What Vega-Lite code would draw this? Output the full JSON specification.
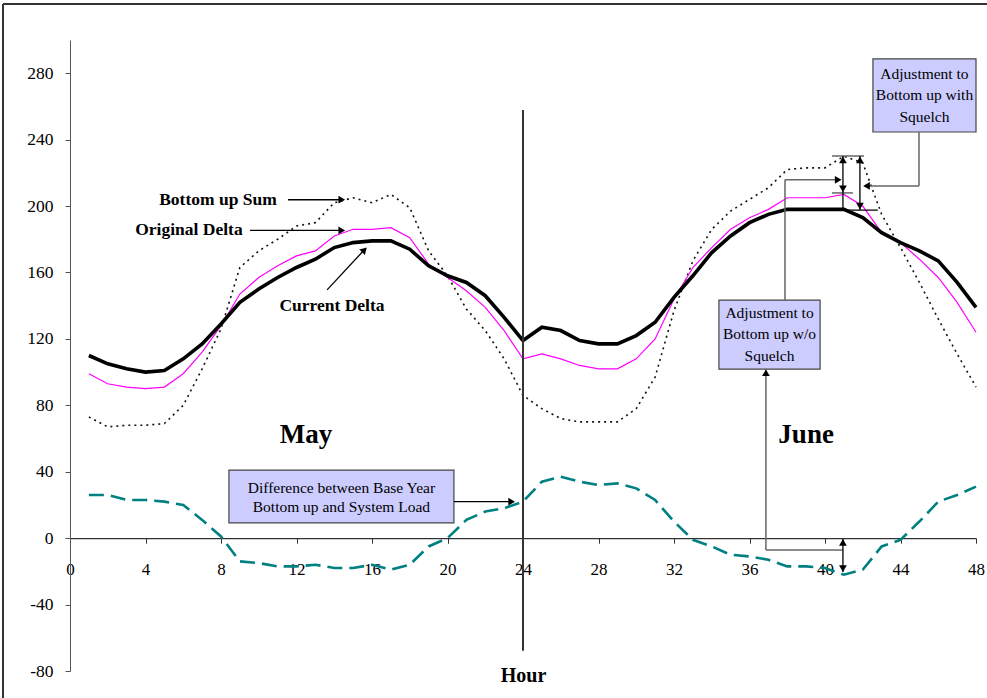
{
  "$schema": "https://vega.github.io/schema/vega-lite/v6.json",
  "width": 906,
  "height": 631,
  "autosize": {"type": "none"},
  "padding": {"left": 70, "top": 40, "right": 11, "bottom": 27},
  "background": "white",
  "config": {"view": {"stroke": null}, "font": "Liberation Serif"},
  "datasets": {
    "series": [
      {"hour": 1, "cd": 110, "od": 99, "bu": 73, "df": 26},
      {"hour": 2, "cd": 105, "od": 93, "bu": 67, "df": 26},
      {"hour": 3, "cd": 102, "od": 91, "bu": 68, "df": 23},
      {"hour": 4, "cd": 100, "od": 90, "bu": 68, "df": 23},
      {"hour": 5, "cd": 101, "od": 91, "bu": 69, "df": 22},
      {"hour": 6, "cd": 108, "od": 99, "bu": 80, "df": 20},
      {"hour": 7, "cd": 117, "od": 112, "bu": 102, "df": 11},
      {"hour": 8, "cd": 129, "od": 128, "bu": 126, "df": 1},
      {"hour": 9, "cd": 142, "od": 147, "bu": 163, "df": -14},
      {"hour": 10, "cd": 150, "od": 157, "bu": 173, "df": -15},
      {"hour": 11, "cd": 157, "od": 164, "bu": 180, "df": -17},
      {"hour": 12, "cd": 163, "od": 170, "bu": 188, "df": -17},
      {"hour": 13, "cd": 168, "od": 173, "bu": 190, "df": -16},
      {"hour": 14, "cd": 175, "od": 182, "bu": 202, "df": -18},
      {"hour": 15, "cd": 178, "od": 186, "bu": 205, "df": -18},
      {"hour": 16, "cd": 179, "od": 186, "bu": 202, "df": -16},
      {"hour": 17, "cd": 179, "od": 187, "bu": 207, "df": -19},
      {"hour": 18, "cd": 174, "od": 181, "bu": 199, "df": -16},
      {"hour": 19, "cd": 164, "od": 165, "bu": 173, "df": -5},
      {"hour": 20, "cd": 158, "od": 157, "bu": 158, "df": 0},
      {"hour": 21, "cd": 154, "od": 149, "bu": 138, "df": 11},
      {"hour": 22, "cd": 146, "od": 139, "bu": 125, "df": 16},
      {"hour": 23, "cd": 133, "od": 125, "bu": 108, "df": 18},
      {"hour": 24, "cd": 119, "od": 108, "bu": 86, "df": 22},
      {"hour": 25, "cd": 127, "od": 111, "bu": 78, "df": 34},
      {"hour": 26, "cd": 125, "od": 108, "bu": 72, "df": 37},
      {"hour": 27, "cd": 119, "od": 104, "bu": 70, "df": 34},
      {"hour": 28, "cd": 117, "od": 102, "bu": 70, "df": 32},
      {"hour": 29, "cd": 117, "od": 102, "bu": 70, "df": 33},
      {"hour": 30, "cd": 122, "od": 108, "bu": 78, "df": 30},
      {"hour": 31, "cd": 130, "od": 120, "bu": 97, "df": 23},
      {"hour": 32, "cd": 145, "od": 144, "bu": 137, "df": 10},
      {"hour": 33, "cd": 158, "od": 163, "bu": 167, "df": -1},
      {"hour": 34, "cd": 172, "od": 175, "bu": 186, "df": -5},
      {"hour": 35, "cd": 182, "od": 186, "bu": 197, "df": -10},
      {"hour": 36, "cd": 190, "od": 193, "bu": 204, "df": -11},
      {"hour": 37, "cd": 195, "od": 198, "bu": 211, "df": -13},
      {"hour": 38, "cd": 198, "od": 205, "bu": 222, "df": -17},
      {"hour": 39, "cd": 198, "od": 205, "bu": 223, "df": -17},
      {"hour": 40, "cd": 198, "od": 205, "bu": 223, "df": -18},
      {"hour": 41, "cd": 198, "od": 207, "bu": 230, "df": -22},
      {"hour": 42, "cd": 193, "od": 200, "bu": 226, "df": -19},
      {"hour": 43, "cd": 184, "od": 184, "bu": 195, "df": -5},
      {"hour": 44, "cd": 178, "od": 178, "bu": 175, "df": -1},
      {"hour": 45, "cd": 173, "od": 168, "bu": 154, "df": 10},
      {"hour": 46, "cd": 167, "od": 157, "bu": 132, "df": 22},
      {"hour": 47, "cd": 154, "od": 142, "bu": 111, "df": 26},
      {"hour": 48, "cd": 139, "od": 124, "bu": 91, "df": 31}
    ],
    "boxes": [
      {"x": 8.42, "x2": 20.34, "y": 41.0, "y2": 9.2},
      {"x": 34.38, "x2": 39.74, "y": 143.4, "y2": 101.8},
      {"x": 42.54, "x2": 48.0, "y": 288.6, "y2": 244.6}
    ],
    "boxtext": [
      {"x": 14.38, "y": 30.1, "label": "Difference between Base Year"},
      {"x": 14.38, "y": 18.8, "label": "Bottom up and System Load"},
      {"x": 37.06, "y": 135.6, "label": "Adjustment to"},
      {"x": 37.06, "y": 122.9, "label": "Bottom up w/o"},
      {"x": 37.06, "y": 109.7, "label": "Squelch"},
      {"x": 45.27, "y": 279.6, "label": "Adjustment to"},
      {"x": 45.27, "y": 267.0, "label": "Bottom up with"},
      {"x": 45.27, "y": 253.7, "label": "Squelch"}
    ],
    "greylines": [
      {"x": 40.37, "y": 230.2, "x2": 42.07, "y2": 230.2},
      {"x": 40.37, "y": 207.9, "x2": 41.48, "y2": 207.9},
      {"x": 37.88, "y": 143.4, "x2": 37.88, "y2": 215.8},
      {"x": 37.88, "y": 215.8, "x2": 40.6, "y2": 215.8},
      {"x": 36.87, "y": 101.8, "x2": 36.87, "y2": -7.1},
      {"x": 36.87, "y": -7.1, "x2": 40.95, "y2": -7.1},
      {"x": 44.98, "y": 244.6, "x2": 44.98, "y2": 212.1},
      {"x": 44.98, "y": 212.1, "x2": 42.3, "y2": 212.1}
    ],
    "blacklines": [
      {"x": 11.55, "y": 203.8, "x2": 14.3, "y2": 203.8},
      {"x": 9.54, "y": 185.3, "x2": 14.3, "y2": 185.3},
      {"x": 13.62, "y": 149.5, "x2": 15.5, "y2": 172.5},
      {"x": 20.34, "y": 22.0, "x2": 23.3, "y2": 22.0},
      {"x": 40.95, "y": -0.5, "x2": 40.95, "y2": -20.4},
      {"x": 40.95, "y": 230.2, "x2": 40.95, "y2": 207.9},
      {"x": 40.95, "y": 207.9, "x2": 40.95, "y2": 197.6},
      {"x": 40.95, "y": 197.6, "x2": 42.8, "y2": 197.6},
      {"x": 41.85, "y": 230.2, "x2": 41.85, "y2": 197.6}
    ],
    "heads": [
      {"x": 14.4, "y": 203.8, "dir": "right"},
      {"x": 14.4, "y": 185.3, "dir": "right"},
      {"x": 23.4, "y": 22.0, "dir": "right"},
      {"x": 40.7, "y": 215.8, "dir": "right"},
      {"x": 36.87, "y": 99.6, "dir": "up"},
      {"x": 40.95, "y": -2.6, "dir": "up"},
      {"x": 40.95, "y": -18.3, "dir": "down"},
      {"x": 40.95, "y": 227.8, "dir": "up"},
      {"x": 40.95, "y": 210.3, "dir": "down"},
      {"x": 41.85, "y": 227.8, "dir": "up"},
      {"x": 41.85, "y": 200.0, "dir": "down"},
      {"x": 42.2, "y": 212.1, "dir": "left"}
    ],
    "labels": [
      {"x": 7.84, "y": 203.8, "label": "Bottom up Sum"},
      {"x": 6.3, "y": 185.6, "label": "Original Delta"},
      {"x": 13.88, "y": 139.8, "label": "Current Delta"}
    ],
    "months": [
      {"x": 12.5, "y": 62.2, "label": "May"},
      {"x": 39.0, "y": 62.2, "label": "June"}
    ]
  },
  "layer": [
    {
      "data": {"name": "series"},
      "mark": {"type": "line", "color": "#008080", "strokeWidth": 2.6, "strokeDash": [15, 7]},
      "encoding": {
        "x": {
          "field": "hour", "type": "quantitative",
          "scale": {"domain": [0, 48], "nice": false, "zero": false},
          "axis": {
            "orient": "bottom", "offset": -132.8,
            "values": [0, 4, 8, 12, 16, 20, 24, 28, 32, 36, 40, 44, 48],
            "tickSize": 5, "labelPadding": 18, "labelFontSize": 17,
            "labelFont": "Liberation Serif", "labelColor": "black",
            "domainColor": "black", "tickColor": "#333", "grid": false,
            "labelFlush": false, "labelOverlap": false,
            "title": "Hour", "titleFont": "Liberation Serif", "titleFontSize": 20,
            "titleFontWeight": "bold", "titleColor": "black", "titleY": 137, "titleBaseline": "middle"
          }
        },
        "y": {
          "field": "df", "type": "quantitative",
          "scale": {"domain": [-80, 300], "nice": false, "zero": false},
          "axis": {
            "values": [-80, -40, 0, 40, 80, 120, 160, 200, 240, 280],
            "labelExpr": "toString(datum.value)",
            "tickSize": 5, "labelPadding": 12, "labelFontSize": 17.5,
            "labelFont": "Liberation Serif", "labelColor": "black",
            "domainColor": "#555", "tickColor": "#555", "grid": false, "title": null
          }
        }
      }
    },
    {
      "data": {"name": "series"},
      "mark": {"type": "line", "color": "#111", "strokeWidth": 1.6, "strokeDash": [2, 4]},
      "encoding": {
        "x": {"field": "hour", "type": "quantitative"},
        "y": {"field": "bu", "type": "quantitative"}
      }
    },
    {
      "data": {"name": "series"},
      "mark": {"type": "line", "color": "#ff00ff", "strokeWidth": 1.2},
      "encoding": {
        "x": {"field": "hour", "type": "quantitative"},
        "y": {"field": "od", "type": "quantitative"}
      }
    },
    {
      "data": {"name": "series"},
      "mark": {"type": "line", "color": "black", "strokeWidth": 3.6},
      "encoding": {
        "x": {"field": "hour", "type": "quantitative"},
        "y": {"field": "cd", "type": "quantitative"}
      }
    },
    {
      "data": {"values": [{}]},
      "mark": {"type": "rule", "color": "#333", "strokeWidth": 2},
      "encoding": {"x": {"datum": -3.55}, "x2": {"datum": 48.6}, "y": {"datum": 321.7}}
    },
    {
      "data": {"values": [{}]},
      "mark": {"type": "rule", "color": "#333", "strokeWidth": 2},
      "encoding": {"x": {"datum": -3.55}, "y": {"datum": 321.7}, "y2": {"datum": -96.3}}
    },
    {
      "data": {"values": [{}]},
      "mark": {"type": "rule", "color": "#333", "strokeWidth": 2},
      "encoding": {"x": {"datum": 24}, "y": {"datum": 257.9}, "y2": {"datum": -67.8}}
    },
    {
      "data": {"name": "boxes"},
      "mark": {"type": "rect", "fill": "#ccccff", "stroke": "#444", "strokeWidth": 1.2},
      "encoding": {
        "x": {"field": "x", "type": "quantitative"}, "x2": {"field": "x2"},
        "y": {"field": "y", "type": "quantitative"}, "y2": {"field": "y2"}
      }
    },
    {
      "data": {"name": "greylines"},
      "mark": {"type": "rule", "color": "#666", "strokeWidth": 1.5},
      "encoding": {
        "x": {"field": "x", "type": "quantitative"}, "x2": {"field": "x2"},
        "y": {"field": "y", "type": "quantitative"}, "y2": {"field": "y2"}
      }
    },
    {
      "data": {"name": "blacklines"},
      "mark": {"type": "rule", "color": "black", "strokeWidth": 1.3},
      "encoding": {
        "x": {"field": "x", "type": "quantitative"}, "x2": {"field": "x2"},
        "y": {"field": "y", "type": "quantitative"}, "y2": {"field": "y2"}
      }
    },
    {
      "data": {"name": "heads"},
      "mark": {"type": "point", "filled": true, "color": "black", "size": 60, "opacity": 1},
      "encoding": {
        "x": {"field": "x", "type": "quantitative"},
        "y": {"field": "y", "type": "quantitative"},
        "shape": {
          "field": "dir", "type": "nominal", "legend": null,
          "scale": {"domain": ["right", "left", "up", "down"], "range": ["triangle-right", "triangle-left", "triangle-up", "triangle-down"]}
        }
      }
    },
    {
      "data": {"values": [{}]},
      "mark": {"type": "point", "filled": true, "color": "black", "size": 60, "opacity": 1, "shape": "triangle-up", "angle": 44},
      "encoding": {"x": {"datum": 15.6}, "y": {"datum": 173.6}}
    },
    {
      "data": {"name": "labels"},
      "mark": {"type": "text", "font": "Liberation Serif", "fontSize": 17.5, "fontWeight": "bold", "color": "black", "align": "center", "baseline": "middle"},
      "encoding": {
        "x": {"field": "x", "type": "quantitative"},
        "y": {"field": "y", "type": "quantitative"},
        "text": {"field": "label"}
      }
    },
    {
      "data": {"name": "months"},
      "mark": {"type": "text", "font": "Liberation Serif", "fontSize": 27, "fontWeight": "bold", "color": "black", "align": "center", "baseline": "middle"},
      "encoding": {
        "x": {"field": "x", "type": "quantitative"},
        "y": {"field": "y", "type": "quantitative"},
        "text": {"field": "label"}
      }
    },
    {
      "data": {"name": "boxtext"},
      "mark": {"type": "text", "font": "Liberation Serif", "fontSize": 15.5, "color": "black", "align": "center", "baseline": "middle"},
      "encoding": {
        "x": {"field": "x", "type": "quantitative"},
        "y": {"field": "y", "type": "quantitative"},
        "text": {"field": "label"}
      }
    }
  ]
}
